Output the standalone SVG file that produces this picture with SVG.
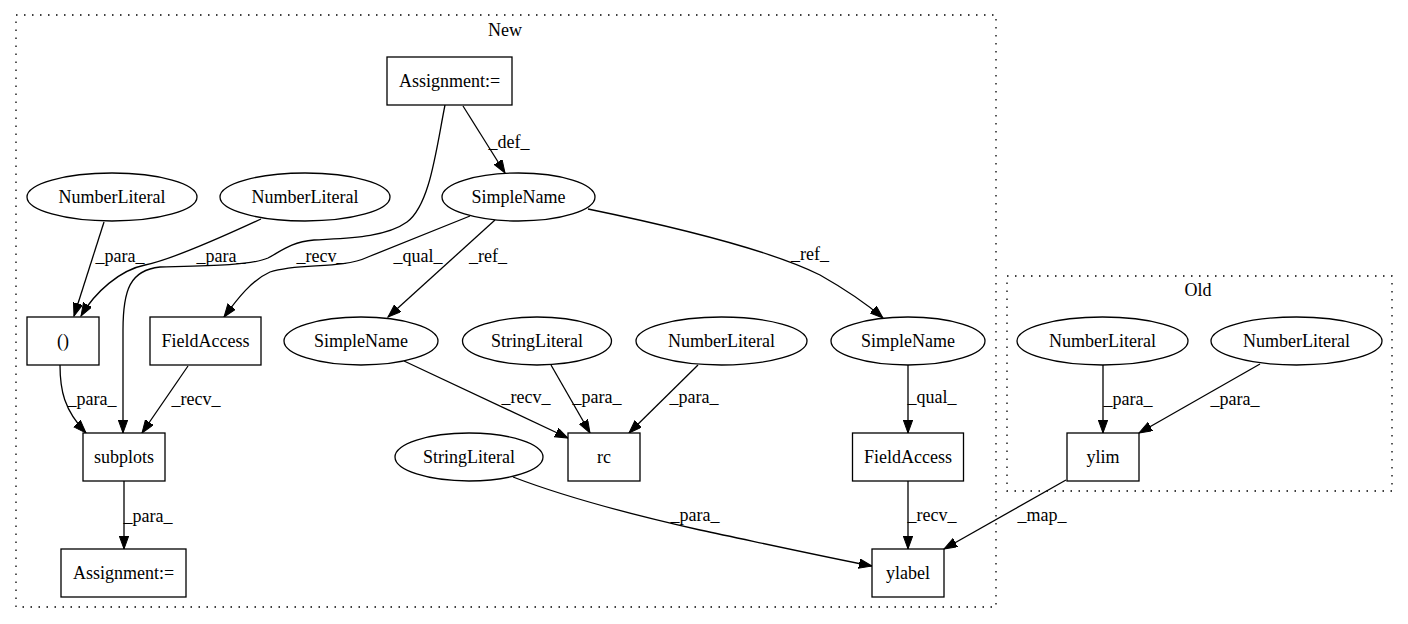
<svg xmlns="http://www.w3.org/2000/svg" width="1408" height="624" viewBox="0 0 1408 624" font-family="Liberation Serif, serif" font-size="18">
<style>
text{fill:#000;text-anchor:middle}
.n rect,.n ellipse{fill:#fff;stroke:#000;stroke-width:1.3}
.cl{fill:none;stroke:#000;stroke-width:1.3;stroke-dasharray:1.5,6.5}
.e path{fill:none;stroke:#000;stroke-width:1.3;marker-end:url(#ah)}
</style>
<defs>
<marker id="ah" markerUnits="userSpaceOnUse" markerWidth="14" markerHeight="10" refX="13" refY="4.7" orient="auto">
<path d="M0,0 L13,4.7 L0,9.4 z" fill="#000" stroke="#000" stroke-width="1"/>
</marker>
</defs>
<rect width="1408" height="624" fill="#fff"/>
<g id="cluster_new"><rect class="cl" x="16" y="15" width="980" height="592"/><text x="505" y="36">New</text></g>
<g id="cluster_old"><rect class="cl" x="1007" y="276" width="385" height="215"/><text x="1198" y="296">Old</text></g>

<g id="edges" class="e">
<path d="M463,106 L505,173"/>
<text x="509" y="148">_def_</text>
<path d="M445,105 C436,150 430,205 407,222 C385,238 345,238 314,240 C290,242 280,252 268,258 C250,266 200,266 160,267 C130,270 123,290 123,330 L123,433"/>
<text x="321" y="262">_recv_</text>
<path d="M104,222 L74,316"/>
<text x="120" y="262">_para_</text>
<path d="M261,219 C220,238 170,260 145,265 C120,270 95,292 81,316"/>
<text x="221" y="262">_para_</text>
<path d="M470,216 C430,232 390,248 368,257 C340,270 300,262 270,272 C252,280 238,298 224,317"/>
<text x="418" y="262">_qual_</text>
<path d="M495,220 L388,317"/>
<text x="488" y="262">_ref_</text>
<path d="M588,209 C680,228 770,250 820,275 C850,292 868,305 883,318"/>
<text x="810" y="260">_ref_</text>
<path d="M404,361 L568,438"/>
<text x="526" y="403">_recv_</text>
<path d="M551,365 L590,433"/>
<text x="597" y="403">_para_</text>
<path d="M698,365 L629,433"/>
<text x="694" y="403">_para_</text>
<path d="M908,365 L908,433"/>
<text x="932" y="403">_qual_</text>
<path d="M908,481 L908,549"/>
<text x="932" y="521">_recv_</text>
<path d="M513,477 C560,495 620,512 700,530 C780,547 830,558 872,566"/>
<text x="695" y="521">_para_</text>
<path d="M1066,480 L944,549"/>
<text x="1042" y="521">_map_</text>
<path d="M1103,365 L1103,433"/>
<text x="1128" y="405">_para_</text>
<path d="M1260,364 L1139,433"/>
<text x="1235" y="405">_para_</text>
<path d="M60,365 C60,390 64,410 86,433"/>
<text x="92" y="405">_para_</text>
<path d="M188,366 L142,433"/>
<text x="196" y="405">_recv_</text>
<path d="M124,481 L124,549"/>
<text x="148" y="522">_para_</text>
</g>

<g id="assign_top" class="n"><rect x="387" y="57" width="125" height="48"/><text x="449.5" y="87">Assignment:=</text></g>
<g id="simplename_top" class="n"><ellipse cx="518.5" cy="197" rx="76.5" ry="24"/><text x="518.5" y="203">SimpleName</text></g>
<g id="numlit1" class="n"><ellipse cx="112" cy="197" rx="85" ry="24"/><text x="112" y="203">NumberLiteral</text></g>
<g id="numlit2" class="n"><ellipse cx="305" cy="197" rx="85" ry="24"/><text x="305" y="203">NumberLiteral</text></g>
<g id="paren" class="n"><rect x="27" y="317" width="72" height="48"/><text x="63" y="347">()</text></g>
<g id="fieldaccess_left" class="n"><rect x="150" y="317" width="111" height="48"/><text x="205.5" y="347">FieldAccess</text></g>
<g id="simplename_mid" class="n"><ellipse cx="361" cy="341" rx="77" ry="24"/><text x="361" y="347">SimpleName</text></g>
<g id="stringlit_rc" class="n"><ellipse cx="537" cy="341" rx="74.5" ry="24"/><text x="537" y="347">StringLiteral</text></g>
<g id="numlit_rc" class="n"><ellipse cx="721.5" cy="341" rx="85.5" ry="24"/><text x="721.5" y="347">NumberLiteral</text></g>
<g id="simplename_right" class="n"><ellipse cx="908" cy="341" rx="77" ry="24"/><text x="908" y="347">SimpleName</text></g>
<g id="subplots" class="n"><rect x="83" y="433" width="82" height="48"/><text x="124" y="463">subplots</text></g>
<g id="stringlit_low" class="n"><ellipse cx="469" cy="457" rx="74" ry="24"/><text x="469" y="463">StringLiteral</text></g>
<g id="rc" class="n"><rect x="568" y="433" width="72" height="48"/><text x="604" y="463">rc</text></g>
<g id="fieldaccess_right" class="n"><rect x="852.5" y="433" width="111" height="48"/><text x="908" y="463">FieldAccess</text></g>
<g id="assign_bottom" class="n"><rect x="61" y="549" width="125" height="48"/><text x="123.5" y="579">Assignment:=</text></g>
<g id="ylabel" class="n"><rect x="872" y="549" width="72" height="48"/><text x="908" y="579">ylabel</text></g>
<g id="numlit_old1" class="n"><ellipse cx="1102.5" cy="341" rx="85.5" ry="24"/><text x="1102.5" y="347">NumberLiteral</text></g>
<g id="numlit_old2" class="n"><ellipse cx="1296.5" cy="341" rx="85.5" ry="24"/><text x="1296.5" y="347">NumberLiteral</text></g>
<g id="ylim" class="n"><rect x="1067" y="433" width="72" height="48"/><text x="1103" y="463">ylim</text></g>
</svg>
